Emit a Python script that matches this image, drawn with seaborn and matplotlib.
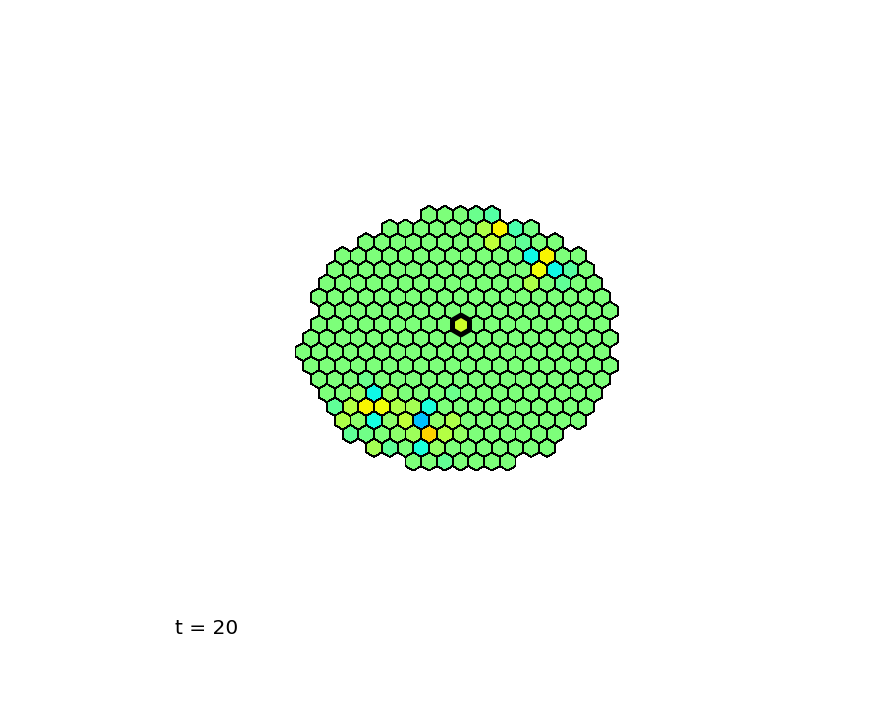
import numpy as np
import matplotlib
matplotlib.use("Agg")
import matplotlib.pyplot as plt
from matplotlib.collections import PolyCollection
import seaborn as sns

# ---- data -------------------------------------------------------------
# hexagonal lattice rows (top to bottom) and their column extents
rows = list(range(-8, 11))
col_min = [-2, -5, -6, -8, -8, -9, -9, -9, -9, -10, -10, -10, -9, -9, -8, -8, -7, -6, -3]
col_max = [2, 4, 6, 7, 8, 8, 9, 9, 9, 9, 9, 9, 9, 8, 8, 7, 6, 5, 3]
base_value = 0.5

# cells whose value differs from the base value: (row, col, value)
special_rows = [-8, -8, -7, -7, -7, -7, -6, -6, -5, -5, -4, -4, -4, -3, -3,
                4, 5, 5, 5, 5, 6, 6, 6, 6, 6, 6, 6, 7, 7, 7, 7, 7, 7, 7, 7,
                8, 8, 8, 8, 8, 8, 8, 9, 9, 9, 9, 10]
special_cols = [1, 2, 1, 2, 3, 4, 2, 4, 4, 5, 5, 6, 7, 4, 6,
                -6, -7, -6, -5, -1, -8, -7, -6, -5, -4, -3, -2, -8, -7, -6, -5, -4, -3, -2, -1,
                -7, -6, -4, -3, -2, -1, 0, -6, -5, -3, -2, -1]
special_vals = [0.48, 0.45, 0.56, 0.65, 0.44, 0.49, 0.58, 0.465, 0.37, 0.65, 0.64, 0.37, 0.455, 0.56, 0.465,
                0.48, 0.53, 0.37, 0.53, 0.48, 0.465, 0.57, 0.65, 0.64, 0.56, 0.55, 0.385, 0.56, 0.52, 0.375, 0.52, 0.58, 0.315, 0.52, 0.56,
                0.465, 0.485, 0.52, 0.54, 0.685, 0.57, 0.53, 0.55, 0.465, 0.385, 0.53, 0.47]

# highlighted (tracked) cell
tracked_cell = (0, 0)
tracked_value = 0.6
time_label = "t = 20"

# ---- layout -----------------------------------------------------------
X0, Y0 = 460.5, 324.5     # lattice origin (figure pixel space)
DX, DY = 15.72, 13.7      # lattice spacing
R = DY * 2.0 / 3.0

sns.set_style("white")
cmap = matplotlib.colormaps["jet"]

special = {(r, c): v for r, c, v in zip(special_rows, special_cols, special_vals)}

hex_off = np.array([(0, -R), (DX / 2, -R / 2), (DX / 2, R / 2),
                    (0, R), (-DX / 2, R / 2), (-DX / 2, -R / 2)])

def center(r, c):
    return X0 + DX * (c + 0.5 * (r % 2)), Y0 + DY * r

polys, vals = [], []
for r, c0, c1 in zip(rows, col_min, col_max):
    for c in range(c0, c1 + 1):
        if (r, c) == tracked_cell:
            continue
        x, y = center(r, c)
        polys.append(hex_off + [x, y])
        vals.append(special.get((r, c), base_value))

fig = plt.figure(figsize=(8.91, 7.03), dpi=100)
ax = fig.add_axes([0, 0, 1, 1])
ax.set_xlim(0, 891)
ax.set_ylim(703, 0)
ax.set_aspect("equal")
ax.axis("off")

pc = PolyCollection(polys, array=np.array(vals), cmap=cmap,
                    edgecolors="black", linewidths=0.6, antialiaseds=False)
pc.set_clim(0, 1)
ax.add_collection(pc)

tx, ty = center(*tracked_cell)
tc = PolyCollection([hex_off * 1.08 + [tx, ty]], array=np.array([tracked_value]),
                    cmap=cmap, edgecolors="black", linewidths=3.6)
tc.set_clim(0, 1)
ax.add_collection(tc)

fig.text(0.196, 0.0977, time_label, fontsize=14.5, va="baseline", ha="left",
         color="black")

fig.savefig("out.png", dpi=100)
